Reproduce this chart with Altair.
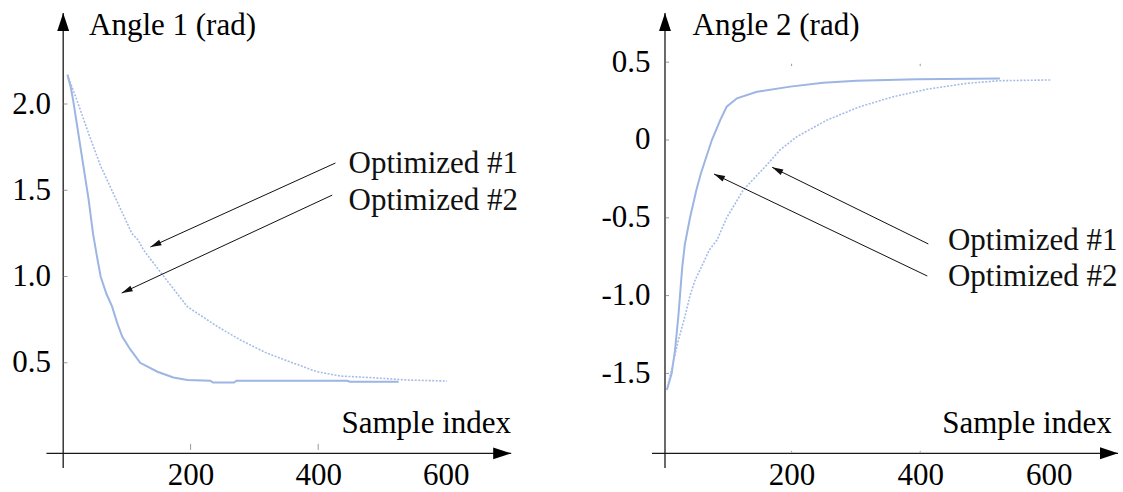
import math
import altair as alt
import pandas as pd

FONT = "Liberation Serif"
FS = 31
SOLID = "#9cb5e3"
DOTTED = "#a6bce8"

# ---------------- Left panel: Angle 1 ----------------
a1_opt2_x = [7, 12, 16, 24, 32, 40, 47, 54, 59, 68, 77, 85, 93, 105, 121, 148, 173, 195, 231, 235, 268, 272, 445, 450, 526]
a1_opt2_y = [2.17, 2.10, 2.02, 1.83, 1.64, 1.45, 1.25, 1.10, 1.00, 0.90, 0.825, 0.73, 0.65, 0.58, 0.50, 0.448, 0.415, 0.40, 0.396, 0.385, 0.385, 0.396, 0.396, 0.39, 0.39]
a1_opt1_x = [7, 22, 40, 59, 108, 118, 126, 158, 195, 242, 278, 320, 362, 398, 435, 487, 539, 602]
a1_opt1_y = [2.17, 2.02, 1.83, 1.64, 1.25, 1.21, 1.155, 1.0, 0.825, 0.71, 0.632, 0.555, 0.497, 0.448, 0.423, 0.413, 0.40, 0.394]

a1_xticks = [200, 400, 600]
a1_xlabels = ["200", "400", "600"]
a1_yticks = [0.5, 1.0, 1.5, 2.0]
a1_ylabels = ["0.5", "1.0", "1.5", "2.0"]

a1_notes = ["Optimized #1", "Optimized #2"]
a1_note_x = [447.5, 447.5]
a1_note_y = [1.652, 1.438]
a1_arrow_from_x = [427, 422]
a1_arrow_from_y = [1.658, 1.472]
a1_arrow_to_x = [137, 92]
a1_arrow_to_y = [1.171, 0.904]

# ---------------- Right panel: Angle 2 ----------------
a2_opt2_x = [6, 13.5, 18.7, 23.8, 26.4, 30, 34, 42, 52, 59, 76, 89, 99, 115, 146, 198, 249, 301, 395, 524]
a2_opt2_y = [-1.607, -1.5, -1.35, -1.136, -1.0, -0.814, -0.67, -0.5, -0.32, -0.214, 0.0, 0.128, 0.214, 0.268, 0.31, 0.343, 0.368, 0.381, 0.39, 0.396]
a2_opt1_x = [6, 24, 34, 42, 50, 60, 72, 84, 99, 125, 159, 182, 208, 255, 306, 358, 410, 472, 524, 603]
a2_opt1_y = [-1.607, -1.285, -1.136, -1.0, -0.9, -0.814, -0.707, -0.643, -0.5, -0.32, -0.171, -0.064, 0.021, 0.128, 0.214, 0.278, 0.326, 0.364, 0.381, 0.386]

a2_xticks = [200, 400, 600]
a2_xlabels = ["200", "400", "600"]
a2_yticks = [-1.5, -1.0, -0.5, 0.0, 0.5]
a2_ylabels = ["-1.5", "-1.0", "-0.5", "0", "0.5"]

a2_notes = ["Optimized #1", "Optimized #2"]
a2_note_x = [443.2, 443.2]
a2_note_y = [-0.649, -0.880]
a2_arrow_from_x = [412.6, 411.0]
a2_arrow_from_y = [-0.668, -0.874]
a2_arrow_to_x = [169.8, 79.3]
a2_arrow_to_y = [-0.1755, -0.2185]

HEAD_AXIS = "M0,0L0.33,1L-0.33,1Z"
HEAD_NOTE = "M0,0L0.28,1L-0.28,1Z"


def label_expr(vals, labels):
    av = "[" + ",".join(repr(float(v)) for v in vals) + "]"
    al = "[" + ",".join("'" + l + "'" for l in labels) + "]"
    return f"indexof({av}, datum.value) >= 0 ? {al}[indexof({av}, datum.value)] : ''"


def head_angle(x0, y0, x1, y1, kx, ky):
    dx = (x1 - x0) * kx
    dy = -(y1 - y0) * ky
    return math.degrees(math.atan2(dx, -dy)) % 360


def panel(p):
    kx, ky = p["kx"], p["ky"]
    sx = alt.Scale(domain=p["xdom"], nice=False, zero=False)
    sy = alt.Scale(domain=p["ydom"], nice=False, zero=False)

    xaxis = alt.Axis(values=p["xticks"], labelExpr=label_expr(p["xticks"], p["xlabels"]),
                     domain=False, ticks=False, tickSize=0, grid=False,
                     labelFont=FONT, labelFontSize=FS, labelColor="black",
                     labelPadding=18, labelBaseline="middle", labelFlush=False, labelOverlap=False,
                     title="Sample index", titleFont=FONT, titleFontSize=FS, titleFontWeight="normal",
                     titleColor="black", titleX=p["xtitle_x"], titleY=-34,
                     titleAlign="left", titleBaseline="middle")
    yaxis = alt.Axis(values=p["yticks"], labelExpr=label_expr(p["yticks"], p["ylabels"]),
                     domain=False, ticks=False, tickSize=0, grid=False,
                     labelFont=FONT, labelFontSize=FS, labelColor="black",
                     labelPadding=p["ylabpad"], labelBaseline="middle", labelFlush=False, labelOverlap=False,
                     title=p["ytitle"], titleFont=FONT, titleFontSize=FS, titleFontWeight="normal",
                     titleColor="black", titleAngle=0, titleX=p["ytitle_x"], titleY=20,
                     titleAlign="left", titleBaseline="middle")

    solid_df = pd.DataFrame({"x": p["solid_x"], "y": p["solid_y"]})
    dotted_df = pd.DataFrame({"x": p["dot_x"], "y": p["dot_y"]})

    solid = alt.Chart(solid_df).mark_line(color=SOLID, strokeWidth=2)
    dotted = alt.Chart(dotted_df).mark_line(color=DOTTED, strokeWidth=1.6, strokeDash=[2, 1.5])

    # axis lines with arrow heads
    ax = p["axes"]
    axis_df = pd.DataFrame({
        "x": [ax["xa_x0"], ax["ya_x"]], "x2": [ax["xa_x1"], ax["ya_x"]],
        "y": [ax["xa_y"], ax["ya_y0"]], "y2": [ax["xa_y"], ax["ya_y1"]],
    })
    axis_lines = alt.Chart(axis_df).mark_rule(color="#1a1a1a", strokeWidth=1.3).encode(x2="x2", y2="y2")
    heads_df = pd.DataFrame({"x": [ax["xa_x1"], ax["ya_x"]], "y": [ax["xa_y"], ax["ya_y1"]], "ang": [90, 0]})
    axis_heads = alt.Chart(heads_df).mark_point(shape=HEAD_AXIS, filled=True, size=1296, color="black",
                                                opacity=1, strokeWidth=0).encode(
        angle=alt.Angle("ang:Q", scale=None))

    # small grey ticks
    tk = p["ticks"]
    tdf = pd.DataFrame(
        [{"x": tk["yt_x0"], "x2": tk["yt_x1"], "y": v, "y2": v} for v in p["yticks"]]
        + [{"x": v, "x2": v, "y": tk["xt_y0"], "y2": tk["xt_y1"]} for v in p["xticks"][:2]]
        + [{"x": v, "x2": v, "y": a, "y2": b} for v in p["xticks"][:2] for (a, b) in tk.get("extra", [])]
    )
    ticks = alt.Chart(tdf).mark_rule(color="#9a9a9a", strokeWidth=1).encode(x2="x2", y2="y2")

    # annotations
    adf = pd.DataFrame({"x": p["af_x"], "y": p["af_y"], "x2": p["at_x"], "y2": p["at_y"]})
    arrows = alt.Chart(adf).mark_rule(color="#111111", strokeWidth=1).encode(x2="x2", y2="y2")
    hdf = pd.DataFrame({
        "x": p["at_x"], "y": p["at_y"],
        "ang": [head_angle(a, b, c, d, kx, ky) for a, b, c, d in zip(p["af_x"], p["af_y"], p["at_x"], p["at_y"])],
    })
    arrow_heads = alt.Chart(hdf).mark_point(shape=HEAD_NOTE, filled=True, size=484, color="#111111",
                                            opacity=1, strokeWidth=0).encode(
        angle=alt.Angle("ang:Q", scale=None))
    ndf = pd.DataFrame({"x": p["nx"], "y": p["ny"], "t": p["notes"]})
    notes = alt.Chart(ndf).mark_text(align="left", baseline="middle", font=FONT, fontSize=FS,
                                     color="#111111").encode(text="t:N")

    return alt.layer(solid, dotted, axis_lines, axis_heads, ticks, arrows, arrow_heads, notes).encode(
        x=alt.X("x:Q", scale=sx, axis=xaxis),
        y=alt.Y("y:Q", scale=sy, axis=yaxis),
    ).properties(width=p["width"], height=p["height"])


H = 452
left = panel({
    "kx": 0.638, "ky": 172.5, "width": 460, "height": H,
    "xdom": [0, 460 / 0.638], "ydom": [2.574 - H / 172.5, 2.574],
    "xticks": a1_xticks, "xlabels": a1_xlabels, "yticks": a1_yticks, "ylabels": a1_ylabels,
    "ylabpad": 12.5, "ytitle": "Angle 1 (rad)", "ytitle_x": 25.5, "xtitle_x": 278,
    "solid_x": a1_opt2_x, "solid_y": a1_opt2_y, "dot_x": a1_opt1_x, "dot_y": a1_opt1_y,
    "axes": {"xa_x0": -25.9, "xa_x1": 702.5, "xa_y": -0.025, "ya_x": 0.3, "ya_y0": -0.110, "ya_y1": 2.528},
    "ticks": {"yt_x0": 1.0, "yt_x1": 7.0, "xt_y0": 0.03, "xt_y1": -0.005},
    "af_x": a1_arrow_from_x, "af_y": a1_arrow_from_y, "at_x": a1_arrow_to_x, "at_y": a1_arrow_to_y,
    "nx": a1_note_x, "ny": a1_note_y, "notes": a1_notes,
})
right = panel({
    "kx": 0.643, "ky": 155.6, "width": 455, "height": H,
    "xdom": [0, 455 / 0.643], "ydom": [0.8676 - H / 155.6, 0.8676],
    "xticks": a2_xticks, "xlabels": a2_xlabels, "yticks": a2_yticks, "ylabels": a2_ylabels,
    "ylabpad": 13, "ytitle": "Angle 2 (rad)", "ytitle_x": 29, "xtitle_x": 278.7,
    "solid_x": a2_opt2_x, "solid_y": a2_opt2_y, "dot_x": a2_opt1_x, "dot_y": a2_opt1_y,
    "axes": {"xa_x0": -17.1, "xa_x1": 707.6, "xa_y": -2.0135, "ya_x": 3.1, "ya_y0": -2.108, "ya_y1": 0.816},
    "ticks": {"yt_x0": 4.7, "yt_x1": 9.5, "xt_y0": -1.998, "xt_y1": -2.008, "extra": [(0.475, 0.49)]},
    "af_x": a2_arrow_from_x, "af_y": a2_arrow_from_y, "at_x": a2_arrow_to_x, "at_y": a2_arrow_to_y,
    "nx": a2_note_x, "ny": a2_note_y, "notes": a2_notes,
})

chart = alt.hconcat(left, right, spacing=140, bounds="flush").properties(
    padding={"left": 11, "top": 5, "right": 0, "bottom": 0},
    background="white",
).configure_view(strokeWidth=0)

chart.save("out.html", embed_options={"renderer": "svg", "actions": False})
